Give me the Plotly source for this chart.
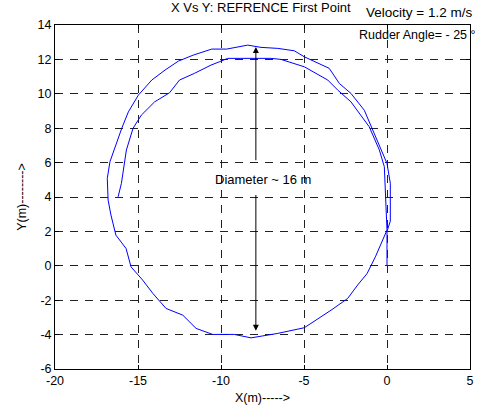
import plotly.graph_objects as go

# Trajectory (first loop followed by second partial loop)
x_pos = [0.0, 0.0, 0.2, 0.2, 0.0, -0.33, -0.62, -0.96, -1.37, -2.17, -2.87, -3.48, -4.98,
         -5.58, -6.58, -7.59, -8.39, -9.66, -10.56, -11.67, -12.57, -13.37, -14.17, -14.98,
         -15.58, -15.98, -16.69, -16.85, -16.8, -16.63, -16.33, -15.72, -15.42, -14.72,
         -14.11, -13.31, -12.3, -11.5, -10.5, -9.2, -8.19, -6.58, -4.98, -3.37, -2.37,
         -1.77, -1.2, -0.7, -0.3, 0.0, -0.06, -0.1, -0.16, -0.46, -0.7, -1.07, -2.17,
         -2.97, -3.57, -4.98, -6.39, -6.99, -8.8, -9.6, -10.1, -10.6, -11.6, -12.5, -13.1,
         -14.0, -14.8, -15.3, -15.7, -16.0, -16.2]
y_pos = [0.0, 2.0, 2.6, 4.8, 5.95, 6.7, 7.3, 8.08, 9.05, 10.02, 10.6, 11.48, 12.15,
         12.5, 12.64, 12.7, 12.83, 12.6, 12.6, 12.25, 11.9, 11.38, 10.8, 9.92,
         8.95, 7.99, 6.05, 5.08, 3.82, 2.95, 1.78, 1.01, -0.06, -0.83,
         -1.6, -2.48, -2.87, -3.64, -3.99, -3.99, -4.19, -3.93, -3.6, -2.58, -1.9,
         -1.12, -0.45, 0.52, 1.45, 2.08, 3.43, 4.79, 5.76, 6.73, 7.3, 8.08, 9.53,
         10.22, 10.8, 11.57, 12.0, 12.06, 12.06, 12.06, 11.86, 11.67, 11.19, 10.8, 10.06,
         9.53, 8.76, 7.99, 6.73, 4.79, 4.01]

x_ticks = [-20, -15, -10, -5, 0, 5]
y_ticks = [-6, -4, -2, 0, 2, 4, 6, 8, 10, 12, 14]

# Diameter arrows: (tail_x, tail_y, tip_x, tip_y)
arrow_up = (-7.9, 6.05, -7.9, 12.72)
arrow_down = (-7.9, 4.2, -7.9, -3.78)
diam_label = ("Diameter ~ 16 m", -7.45, 5.0)

FONT = "Liberation Sans, Arial, Helvetica, sans-serif"

fig = go.Figure()
fig.add_trace(go.Scatter(x=x_pos, y=y_pos, mode="lines",
                         line=dict(color="#0000ff", width=1), showlegend=False,
                         hoverinfo="skip"))

for tx, ty, hx, hy in (arrow_up, arrow_down):
    fig.add_annotation(x=hx, y=hy, ax=tx, ay=ty, xref="x", yref="y", axref="x", ayref="y",
                       text="", showarrow=True, arrowhead=2, arrowsize=1.2, arrowwidth=1,
                       arrowcolor="black", standoff=0, startstandoff=0)

fig.add_annotation(x=diam_label[1], y=diam_label[2], xref="x", yref="y", text=diam_label[0],
                   showarrow=False, xanchor="center", yanchor="middle",
                   font=dict(family=FONT, size=13, color="black"))

fig.add_annotation(x=0.496, y=1.051, xref="paper", yref="paper", xanchor="center",
                   yanchor="middle", text="X Vs Y: REFRENCE First Point", showarrow=False,
                   font=dict(family=FONT, size=13, color="black"))
fig.add_annotation(x=0.877, y=1.035, xref="paper", yref="paper", xanchor="center",
                   yanchor="middle", text="Velocity = 1.2 m/s", showarrow=False,
                   font=dict(family=FONT, size=13.5, color="black"))
fig.add_annotation(x=1.019, y=0.971, xref="paper", yref="paper", xanchor="right",
                   yanchor="middle", text="Rudder Angle= - 25 °", showarrow=False,
                   font=dict(family=FONT, size=12.5, color="black"))

axis_common = dict(showgrid=True, gridcolor="#222222", gridwidth=1, griddash="8px,7px",
                   zeroline=False, showline=True, linecolor="black", linewidth=1,
                   mirror="ticks", ticks="inside", ticklen=4, tickcolor="black",
                   automargin=False,
                   tickfont=dict(family=FONT, size=12.5, color="black"))

fig.update_xaxes(range=[-20, 5], tickvals=x_ticks, ticktext=[str(v) for v in x_ticks],
                 ticklabelstandoff=0,
                 title=dict(text="X(m)----->", font=dict(family=FONT, size=12.5, color="black"),
                            standoff=6),
                 **axis_common)
fig.update_yaxes(range=[-6, 14], tickvals=y_ticks, ticktext=[str(v) for v in y_ticks],
                 title=dict(text="Y(m)-------->", font=dict(family=FONT, size=12.5, color="black"),
                            standoff=8),
                 **axis_common)

fig.update_layout(width=481, height=409, margin=dict(l=55, r=11, t=25, b=40),
                  paper_bgcolor="white", plot_bgcolor="white",
                  font=dict(family=FONT, size=12.5, color="black"))

# remove the default page margin so the figure fills the window exactly
fig.write_html("out.html", config={"displayModeBar": False},
               post_script="document.body.style.margin='0';document.body.style.overflow='hidden';")
